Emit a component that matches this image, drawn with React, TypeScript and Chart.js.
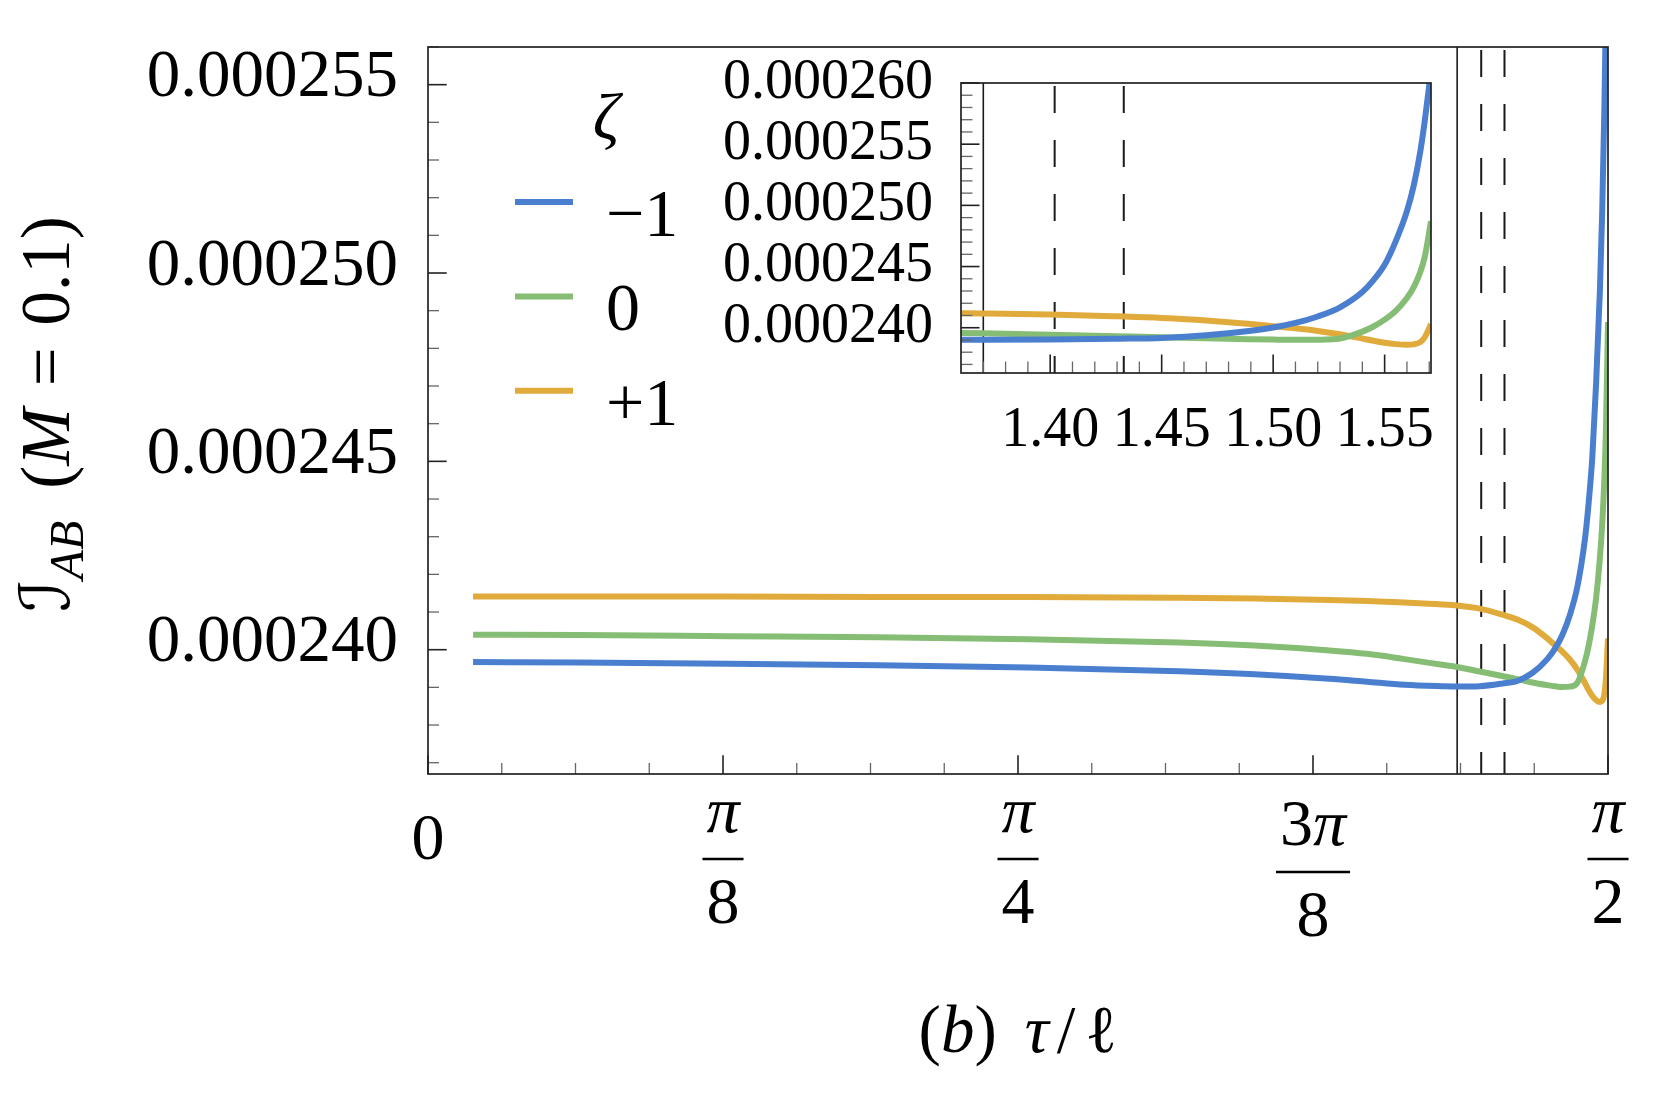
import React, { useEffect, useRef } from 'react';
import { Chart, registerables } from 'chart.js';

Chart.register(...registerables);

const PI = Math.PI;

// ---------- data ----------
const TAU = [0.06, 0.2, 0.4, 0.6, 0.8, 1.0, 1.1, 1.2, 1.25, 1.3, 1.35, 1.37, 1.4, 1.43, 1.45, 1.47, 1.49, 1.5, 1.51, 1.52, 1.53, 1.54, 1.545, 1.55, 1.555, 1.56, 1.563, 1.566, 1.568, 1.5708];

const I_ZETA_MINUS1 = [0.00023967, 0.00023966, 0.00023963, 0.00023959, 0.00023953, 0.00023943, 0.00023935, 0.00023923, 0.00023915, 0.00023907, 0.00023903, 0.00023902, 0.00023903, 0.0002391, 0.00023917, 0.00023938, 0.00023975, 0.00024002, 0.00024039, 0.00024092, 0.00024167, 0.00024292, 0.00024389, 0.00024514, 0.00024708, 0.00024953, 0.00025158, 0.0002544, 0.0002569, 0.000261];

const I_ZETA_0 = [0.0002404, 0.00024039, 0.00024036, 0.00024033, 0.00024028, 0.00024019, 0.00024011, 0.00023998, 0.00023989, 0.00023975, 0.0002396, 0.00023954, 0.00023942, 0.0002393, 0.00023922, 0.00023913, 0.00023906, 0.00023903, 0.00023901, 0.00023902, 0.00023912, 0.00023968, 0.0002401, 0.00024066, 0.00024138, 0.00024243, 0.0002433, 0.00024455, 0.0002458, 0.0002487];

const I_ZETA_PLUS1 = [0.00024141, 0.00024141, 0.00024141, 0.0002414, 0.0002414, 0.00024138, 0.00024136, 0.00024132, 0.00024129, 0.00024125, 0.0002412, 0.00024117, 0.00024109, 0.00024093, 0.0002408, 0.0002406, 0.0002403, 0.00024012, 0.00023995, 0.00023974, 0.00023947, 0.00023912, 0.00023893, 0.00023877, 0.00023866, 0.00023861, 0.00023864, 0.00023882, 0.00023922, 0.0002403];

const SERIES = [I_ZETA_MINUS1, I_ZETA_0, I_ZETA_PLUS1];
const SERIES_LABELS = ['\u22121', '0', '+1'];
const SERIES_COLORS = ['#4a7fd0', '#86bd74', '#e1ab3b'];

const MAIN_X_TICKS = [0, PI / 8, PI / 4, (3 * PI) / 8, PI / 2];
const MAIN_X_NUM = ['0', '\u03c0', '\u03c0', '3\u03c0', '\u03c0'];
const MAIN_X_DEN = ['', '8', '4', '8', '2'];
const MAIN_Y_TICKS = [0.00024, 0.000245, 0.00025, 0.000255];

const INSET_X_TICKS = [1.4, 1.45, 1.5, 1.55];
const INSET_Y_TICKS = [0.00024, 0.000245, 0.00025, 0.000255, 0.00026];

const SOLID_MARK_TAU = [1.37];
const DASHED_MARK_TAU = [1.402, 1.433];

// ---------- helpers ----------
const FONT = "'Liberation Serif', 'DejaVu Serif', 'DejaVu Sans', serif";
const fontOf = (size: number, italic?: boolean) => `${italic ? 'italic ' : ''}${size}px ${FONT}`;

type Part = { t?: string; it?: boolean; size?: number; dy?: number; gap?: number };

function richWidths(ctx: CanvasRenderingContext2D, parts: Part[], base: number) {
  return parts.map((p) => {
    if (p.gap !== undefined) return p.gap;
    ctx.font = fontOf(p.size ?? base, p.it);
    return ctx.measureText(p.t || '').width;
  });
}

function drawRich(ctx: CanvasRenderingContext2D, parts: Part[], x: number, y: number, base: number, align: 'center' | 'left') {
  const w = richWidths(ctx, parts, base);
  const total = w.reduce((a, b) => a + b, 0);
  let cx = align === 'center' ? x - total / 2 : x;
  ctx.textAlign = 'left';
  ctx.textBaseline = 'alphabetic';
  parts.forEach((p, i) => {
    if (p.gap === undefined) {
      ctx.font = fontOf(p.size ?? base, p.it);
      ctx.fillText(p.t || '', cx, y + (p.dy ?? 0));
    }
    cx += w[i];
  });
  return total;
}

function mathParts(s: string): Part[] {
  return Array.from(s).map((ch) => ({ t: ch, it: /[A-Za-z\u03b1-\u03c9]/.test(ch) }));
}

function drawFraction(ctx: CanvasRenderingContext2D, num: string, den: string, cx: number, topY: number, size: number) {
  const np = mathParts(num);
  const dp = mathParts(den);
  const nw = richWidths(ctx, np, size).reduce((a, b) => a + b, 0);
  const dw = richWidths(ctx, dp, size).reduce((a, b) => a + b, 0);
  let asc = 0;
  np.forEach((p) => {
    ctx.font = fontOf(size, p.it);
    asc = Math.max(asc, ctx.measureText(p.t || '').actualBoundingBoxAscent);
  });
  const nb = topY + asc;
  const barY = nb + 27;
  const db = barY + 64;
  drawRich(ctx, np, cx, nb, size, 'center');
  const bw = Math.max(nw, dw) + 8;
  ctx.lineWidth = 2.4;
  ctx.setLineDash([]);
  ctx.beginPath();
  ctx.moveTo(cx - bw / 2, barY);
  ctx.lineTo(cx + bw / 2, barY);
  ctx.stroke();
  drawRich(ctx, dp, cx, db, size, 'center');
}

function range(a: number, b: number) {
  const r: number[] = [];
  for (let k = a; k <= b; k++) r.push(k);
  return r;
}

function zeroPad(s: any) {
  s.paddingTop = 0;
  s.paddingBottom = 0;
  s.paddingLeft = 0;
  s.paddingRight = 0;
}

type DecorCfg = {
  xMinor: number[];
  yMinor: number[];
  majorLen: number;
  minorLen: number;
  main: boolean;
};

function makeDecor(cfg: DecorCfg) {
  return {
    id: 'decor',
    beforeDatasetsDraw(chart: any) {
      const { ctx, chartArea: a, scales } = chart;
      const xs = scales.x;
      ctx.save();
      ctx.beginPath();
      ctx.rect(a.left, a.top, a.right - a.left, a.bottom - a.top);
      ctx.clip();
      ctx.strokeStyle = '#1a1a1a';
      SOLID_MARK_TAU.forEach((v) => {
        const px = xs.getPixelForValue(v);
        ctx.lineWidth = 1.6;
        ctx.setLineDash([]);
        ctx.beginPath();
        ctx.moveTo(px, a.top);
        ctx.lineTo(px, a.bottom);
        ctx.stroke();
      });
      DASHED_MARK_TAU.forEach((v) => {
        const px = xs.getPixelForValue(v);
        ctx.lineWidth = 2;
        ctx.setLineDash([27, 27]);
        ctx.lineDashOffset = -3;
        ctx.beginPath();
        ctx.moveTo(px, a.top);
        ctx.lineTo(px, a.bottom);
        ctx.stroke();
      });
      ctx.restore();
    },
    afterDatasetsDraw(chart: any) {
      const { ctx, chartArea: a, scales } = chart;
      const xs = scales.x;
      const ys = scales.y;
      ctx.save();
      ctx.setLineDash([]);
      // minor ticks
      ctx.strokeStyle = '#666';
      ctx.lineWidth = 1.3;
      cfg.xMinor.forEach((v) => {
        const px = xs.getPixelForValue(v);
        ctx.beginPath();
        ctx.moveTo(px, a.bottom);
        ctx.lineTo(px, a.bottom - cfg.minorLen);
        ctx.stroke();
      });
      cfg.yMinor.forEach((v) => {
        const py = ys.getPixelForValue(v);
        ctx.beginPath();
        ctx.moveTo(a.left, py);
        ctx.lineTo(a.left + cfg.minorLen, py);
        ctx.stroke();
      });
      // major ticks
      ctx.strokeStyle = '#222';
      ctx.lineWidth = 1.6;
      xs.ticks.forEach((t: any) => {
        const px = xs.getPixelForValue(t.value);
        ctx.beginPath();
        ctx.moveTo(px, a.bottom);
        ctx.lineTo(px, a.bottom - cfg.majorLen);
        ctx.stroke();
      });
      ys.ticks.forEach((t: any) => {
        const py = ys.getPixelForValue(t.value);
        ctx.beginPath();
        ctx.moveTo(a.left, py);
        ctx.lineTo(a.left + cfg.majorLen, py);
        ctx.stroke();
      });
      // frame
      ctx.strokeStyle = '#222';
      ctx.lineWidth = 1.7;
      ctx.strokeRect(a.left, a.top, a.right - a.left, a.bottom - a.top);
      ctx.restore();
    },
    afterDraw(chart: any) {
      if (!cfg.main) return;
      const { ctx, chartArea: a, scales } = chart;
      const xs = scales.x;
      ctx.save();
      ctx.fillStyle = '#000';
      ctx.strokeStyle = '#000';
      // x tick labels (fractions of π)
      xs.ticks.forEach((t: any, i: number) => {
        const px = xs.getPixelForValue(t.value);
        if (MAIN_X_DEN[i] === '') {
          drawRich(ctx, mathParts(MAIN_X_NUM[i]), px, a.bottom + 85, 66, 'center');
        } else {
          drawFraction(ctx, MAIN_X_NUM[i], MAIN_X_DEN[i], px, a.bottom + 28, 66);
        }
      });
      // x title
      drawRich(
        ctx,
        [{ t: '(' }, { t: 'b', it: true }, { t: ')' }, { gap: 28 }, { t: '\u03c4', it: true }, { gap: 8 }, { t: '/' }, { gap: 10 }, { t: '\u2113' }],
        (a.left + a.right) / 2,
        a.bottom + 278,
        67,
        'center'
      );
      // y title (rotated)
      ctx.save();
      ctx.translate(69, 414);
      ctx.rotate(-PI / 2);
      drawRich(
        ctx,
        [
          { t: '\u2110' },
          { t: 'AB', it: true, size: 48, dy: 14 },
          { gap: 32 },
          { t: '(' },
          { t: 'M', it: true },
          { gap: 22 },
          { t: '=' },
          { gap: 22 },
          { t: '0.1' },
          { t: ')' },
        ],
        0,
        0,
        69,
        'center'
      );
      ctx.restore();
      // legend
      const x0 = a.left + 87;
      const x1 = a.left + 145;
      drawRich(ctx, [{ t: '\u03b6', it: true }], a.left + 178, a.top + 92, 66, 'center');
      chart.data.datasets.forEach((ds: any, i: number) => {
        const y = a.top + 155 + i * 94.4;
        ctx.strokeStyle = ds.borderColor;
        ctx.lineWidth = 6;
        ctx.beginPath();
        ctx.moveTo(x0, y);
        ctx.lineTo(x1, y);
        ctx.stroke();
        ctx.fillStyle = '#000';
        drawRich(ctx, [{ t: ds.label }], a.left + 178, y + 34, 68, 'left');
      });
      ctx.restore();
    },
  };
}

function buildDatasets(width: number) {
  return SERIES.map((vals, i) => ({
    label: SERIES_LABELS[i],
    data: TAU.map((t, k) => ({ x: t, y: vals[k] })),
    borderColor: SERIES_COLORS[i],
    backgroundColor: SERIES_COLORS[i],
    borderWidth: width,
    pointRadius: 0,
    cubicInterpolationMode: 'monotone' as const,
    capBezierPoints: false,
    fill: false,
    clip: 0,
  }));
}

export default function App() {
  const mainRef = useRef<HTMLCanvasElement | null>(null);
  const insetRef = useRef<HTMLCanvasElement | null>(null);

  useEffect(() => {
    if (!mainRef.current || !insetRef.current) return;

    const mainXMinor = range(1, 16).filter((k) => k % 4 !== 0).map((k) => (k * PI) / 32);
    const mainYMinor = range(237, 256).filter((k) => k % 5 !== 0).map((k) => k / 1e6);
    const insetXMinor = range(137, 157).filter((k) => k % 5 !== 0).map((k) => k / 100);
    const insetYMinor = range(237, 259).filter((k) => k % 5 !== 0).map((k) => k / 1e6);

    const main = new Chart(mainRef.current, {
      type: 'line',
      data: { datasets: buildDatasets(6) as any },
      options: {
        responsive: false,
        animation: false,
        devicePixelRatio: 1,
        events: [],
        layout: { padding: { left: 0, top: 47, right: 53, bottom: 0 } },
        plugins: { legend: { display: false }, tooltip: { enabled: false }, title: { display: false } },
        scales: {
          x: {
            type: 'linear',
            min: 0,
            max: PI / 2,
            grid: { display: false, drawTicks: false },
            border: { display: false },
            ticks: { display: false },
            afterBuildTicks: (s: any) => {
              s.ticks = MAIN_X_TICKS.map((v) => ({ value: v }));
            },
            afterFit: (s: any) => {
              s.height = 327;
              zeroPad(s);
            },
          },
          y: {
            type: 'linear',
            min: 0.0002367,
            max: 0.000256,
            grid: { display: false, drawTicks: false },
            border: { display: false },
            ticks: {
              font: { family: FONT, size: 67 },
              color: '#000',
              padding: 30,
              labelOffset: -6,
              autoSkip: false,
              callback: (v: any) => Number(v).toFixed(6),
            },
            afterBuildTicks: (s: any) => {
              s.ticks = MAIN_Y_TICKS.map((v) => ({ value: v }));
            },
            afterFit: (s: any) => {
              s.width = 428;
              zeroPad(s);
            },
          },
        },
      } as any,
      plugins: [makeDecor({ xMinor: mainXMinor, yMinor: mainYMinor, majorLen: 18.7, minorLen: 11, main: true })],
    });

    const inset = new Chart(insetRef.current, {
      type: 'line',
      data: { datasets: buildDatasets(6) as any },
      options: {
        responsive: false,
        animation: false,
        devicePixelRatio: 1,
        events: [],
        layout: { padding: { left: 0, top: 43, right: 19, bottom: 0 } },
        plugins: { legend: { display: false }, tooltip: { enabled: false }, title: { display: false } },
        scales: {
          x: {
            type: 'linear',
            min: 1.36,
            max: PI / 2,
            grid: { display: false, drawTicks: false },
            border: { display: false },
            ticks: {
              font: { family: FONT, size: 56 },
              color: '#000',
              padding: 25,
              maxRotation: 0,
              minRotation: 0,
              autoSkip: false,
              callback: (v: any) => Number(v).toFixed(2),
            },
            afterBuildTicks: (s: any) => {
              s.ticks = INSET_X_TICKS.map((v) => ({ value: v }));
            },
            afterFit: (s: any) => {
              s.height = 87;
              zeroPad(s);
            },
          },
          y: {
            type: 'linear',
            min: 0.0002363,
            max: 0.00026,
            grid: { display: false, drawTicks: false },
            border: { display: false },
            ticks: {
              font: { family: FONT, size: 56, lineHeight: 1 },
              color: '#000',
              padding: 28,
              autoSkip: false,
              callback: (v: any) => Number(v).toFixed(6),
            },
            afterBuildTicks: (s: any) => {
              s.ticks = INSET_Y_TICKS.map((v) => ({ value: v }));
            },
            afterFit: (s: any) => {
              s.width = 271;
              zeroPad(s);
            },
          },
        },
      } as any,
      plugins: [makeDecor({ xMinor: insetXMinor, yMinor: insetYMinor, majorLen: 18.5, minorLen: 11.5, main: false })],
    });

    return () => {
      main.destroy();
      inset.destroy();
    };
  }, []);

  return (
    <div style={{ position: 'absolute', left: 0, top: 0, width: 1661, height: 1101, background: '#fff', overflow: 'hidden' }}>
      <canvas ref={mainRef} width={1661} height={1101} style={{ position: 'absolute', left: 0, top: 0, width: 1661, height: 1101 }} />
      <canvas ref={insetRef} width={760} height={420} style={{ position: 'absolute', left: 690, top: 40, width: 760, height: 420 }} />
    </div>
  );
}
